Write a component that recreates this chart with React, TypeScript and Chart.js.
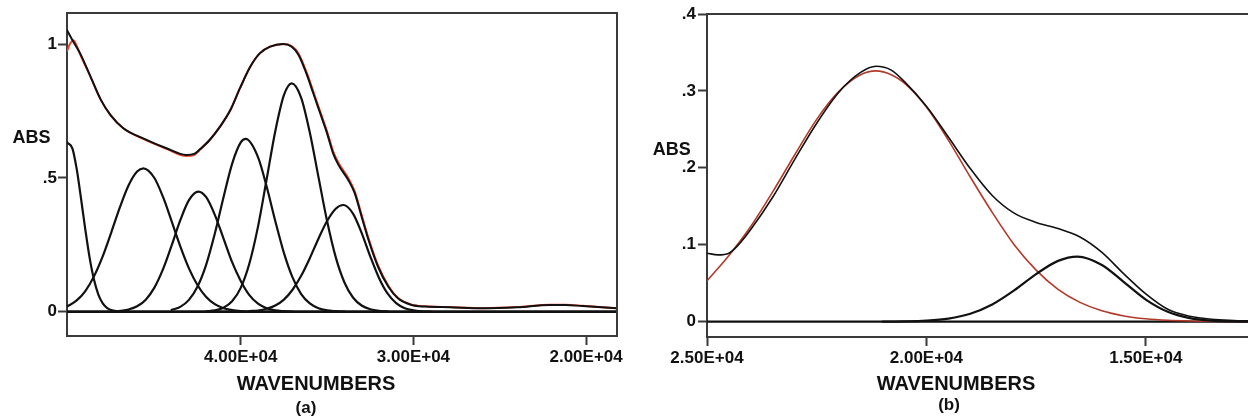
import React, { useEffect, useRef } from 'react';
import { Chart, registerables } from 'chart.js';

Chart.register(...registerables);

const FONT = "'Liberation Sans', Arial, Helvetica, sans-serif";
const AXIS_COLOR = '#3a3a3a';
const TEXT_COLOR = '#111111';
const BLACK = '#111111';
const RED_A = '#e8452c';
const RED_B = '#b23a2a';

// ---------- Chart (a) ----------
const X_RANGE_A = [18211, 50061];
const Y_RANGE_A = [-0.091, 1.117];
const X_TICKS_A = [40000, 30000, 20000];
const X_TICK_LABELS_A = ['4.00E+04', '3.00E+04', '2.00E+04'];
const Y_TICKS_A = [0, 0.5, 1];
const Y_TICK_LABELS_A = ['0', '.5', '1'];

const BASE_A_WN = [50061, 18211];
const BASE_A = [0, 0];

const COMP1_WN = [50061, 49750, 49500, 49250, 49000, 48750, 48500, 48250, 48000, 47750, 47500, 47000, 46500];
const COMP1 = [0.633, 0.611, 0.534, 0.424, 0.307, 0.201, 0.12, 0.065, 0.032, 0.0145, 0.006, 0.001, 0];

const COMP2_WN = [50061, 49500, 49000, 48500, 48000, 47500, 47000, 46500, 46000, 45640, 45000, 44500, 44000, 43500, 43000, 42500, 42000, 41500, 41000, 40500, 40000, 39500];
const COMP2 = [0.019, 0.042, 0.077, 0.132, 0.206, 0.296, 0.39, 0.472, 0.524, 0.536, 0.5, 0.429, 0.338, 0.244, 0.162, 0.099, 0.055, 0.028, 0.013, 0.006, 0.002, 0];

const COMP3_WN = [47000, 46500, 46000, 45500, 45000, 44500, 44000, 43500, 43000, 42455, 42000, 41500, 41000, 40500, 40000, 39500, 39000, 38500, 38000, 37500, 37000];
const COMP3 = [0.003, 0.008, 0.02, 0.045, 0.09, 0.159, 0.248, 0.342, 0.417, 0.449, 0.428, 0.362, 0.274, 0.185, 0.115, 0.062, 0.03, 0.013, 0.005, 0.002, 0];

const COMP4_WN = [44000, 43500, 43000, 42500, 42000, 41500, 41000, 40500, 40000, 39710, 39000, 38500, 38000, 37500, 37000, 36500, 36000, 35500, 35000, 34500, 34000];
const COMP4 = [0.007, 0.018, 0.044, 0.094, 0.176, 0.292, 0.427, 0.553, 0.633, 0.646, 0.578, 0.468, 0.339, 0.22, 0.128, 0.066, 0.031, 0.013, 0.005, 0.002, 0];

const COMP5_WN = [42000, 41500, 41000, 40500, 40000, 39500, 39000, 38500, 38000, 37500, 37047, 36500, 36000, 35500, 35000, 34500, 34000, 33500, 33000, 32500, 32000, 31500];
const COMP5 = [0.0015, 0.005, 0.015, 0.039, 0.089, 0.18, 0.318, 0.495, 0.675, 0.81, 0.854, 0.8, 0.67, 0.504, 0.339, 0.204, 0.11, 0.053, 0.023, 0.009, 0.003, 0.001];

const COMP6_WN = [39500, 39000, 38500, 38000, 37500, 37000, 36500, 36000, 35500, 35000, 34500, 34059, 33500, 33000, 32500, 32000, 31500, 31000, 30500, 30000, 29500, 29000];
const COMP6 = [0.002, 0.0045, 0.011, 0.023, 0.045, 0.082, 0.134, 0.2, 0.273, 0.339, 0.385, 0.399, 0.367, 0.295, 0.207, 0.127, 0.068, 0.032, 0.013, 0.005, 0.0015, 0];

const TOTAL_A_WN = [50061, 49700, 49300, 48700, 48100, 47550, 46800, 45650, 44300, 43150, 42700, 42350, 41800, 41200, 40600, 40050, 39450, 38900, 38300, 37550, 37050, 36650, 36200, 35800, 35400, 35000, 34650, 34350, 33750, 33400, 33000, 32600, 32050, 31450, 30900, 30100, 29300, 27900, 26000, 24000, 22100, 21200, 20200, 18211];
const TOTAL_A = [1.053, 1.01, 0.966, 0.879, 0.792, 0.736, 0.686, 0.648, 0.611, 0.586, 0.59, 0.608, 0.642, 0.692, 0.754, 0.835, 0.916, 0.966, 0.991, 1.001, 0.991, 0.96, 0.891, 0.817, 0.742, 0.667, 0.592, 0.55, 0.49, 0.443, 0.355, 0.268, 0.168, 0.093, 0.05, 0.025, 0.019, 0.0165, 0.0127, 0.0165, 0.025, 0.025, 0.021, 0.0127];

const FIT_A_WN = [50061, 49900, 49700, 49500, 49300, 48700, 48100, 47550, 46800, 45650, 44300, 43150, 42700, 42350, 41800, 41200, 40600, 40050, 39450, 38900, 38300, 37550, 37050, 36650, 36200, 35800, 35400, 35000, 34650, 34350, 33750, 33400, 33000, 32600, 32050, 31450, 30900, 30100, 29300, 27900, 26000, 24000, 22100, 21200, 20200, 18211];
const FIT_A = [0.975, 1.0, 1.015, 0.995, 0.962, 0.879, 0.792, 0.736, 0.686, 0.646, 0.609, 0.582, 0.586, 0.606, 0.642, 0.692, 0.754, 0.835, 0.916, 0.966, 0.991, 1.001, 0.993, 0.965, 0.898, 0.824, 0.749, 0.674, 0.6, 0.558, 0.497, 0.45, 0.362, 0.274, 0.173, 0.097, 0.052, 0.026, 0.02, 0.017, 0.013, 0.017, 0.026, 0.026, 0.022, 0.013];

// ---------- Chart (b) ----------
const X_RANGE_B = [12671, 25000];
const Y_RANGE_B = [-0.02, 0.4];
const X_TICKS_B = [25000, 20000, 15000];
const X_TICK_LABELS_B = ['2.50E+04', '2.00E+04', '1.50E+04'];
const Y_TICKS_B = [0, 0.1, 0.2, 0.3, 0.4];
const Y_TICK_LABELS_B = ['0', '.1', '.2', '.3', '.4'];

const BASE_B_WN = [25000, 12671];
const BASE_B = [0, 0];

const FIT_B_WN = [25000, 24500, 24000, 23500, 23000, 22500, 22000, 21500, 21150, 20800, 20500, 20000, 19500, 19000, 18500, 18000, 17500, 17000, 16500, 16000, 15500, 15000, 14500, 14000, 13000, 12671];
const FIT_B = [0.053, 0.086, 0.124, 0.169, 0.217, 0.263, 0.299, 0.321, 0.326, 0.321, 0.31, 0.279, 0.236, 0.188, 0.142, 0.1, 0.067, 0.042, 0.025, 0.014, 0.0074, 0.0037, 0.0017, 0.0008, 0.0002, 0];

const BAND_B_WN = [21000, 20500, 20000, 19500, 19000, 18500, 18000, 17500, 17000, 16558, 16000, 15500, 15000, 14500, 14000, 13500, 13000, 12671];
const BAND_B = [0, 0.0003, 0.0013, 0.004, 0.0103, 0.0223, 0.0406, 0.0618, 0.079, 0.0846, 0.0737, 0.0514, 0.0287, 0.0128, 0.0046, 0.0013, 0.0003, 0];

const TOTAL_B_WN = [25000, 24750, 24500, 24250, 24000, 23500, 23000, 22500, 22000, 21500, 21150, 20800, 20500, 20000, 19500, 19000, 18500, 18000, 17500, 17000, 16500, 16000, 15500, 15000, 14500, 14000, 13500, 13000, 12671];
const TOTAL_B = [0.089, 0.0868, 0.089, 0.102, 0.12, 0.162, 0.211, 0.258, 0.298, 0.324, 0.332, 0.327, 0.312, 0.28, 0.24, 0.199, 0.164, 0.141, 0.129, 0.121, 0.11, 0.09, 0.062, 0.036, 0.016, 0.007, 0.003, 0.0015, 0.001];

// ---------- helpers ----------
const pts = (wn: number[], v: number[]) => wn.map((x, i) => ({ x, y: v[i] }));

const line = (wn: number[], v: number[], color: string, width: number) => ({
  data: pts(wn, v),
  borderColor: color,
  borderWidth: width,
  pointRadius: 0,
  fill: false,
  cubicInterpolationMode: 'monotone' as const,
});

const tickFont = { family: FONT, size: 17, weight: 'bold' as const };

function xScale(range: number[], ticks: number[], labels: string[], height: number) {
  return {
    type: 'linear' as const,
    reverse: true,
    min: range[0],
    max: range[1],
    afterBuildTicks: (s: any) => {
      s.ticks = ticks.map((v) => ({ value: v }));
    },
    afterFit: (s: any) => {
      s.height = height;
    },
    ticks: {
      callback: (v: any) => {
        const i = ticks.indexOf(Number(v));
        return i >= 0 ? labels[i] : '';
      },
      font: tickFont,
      color: TEXT_COLOR,
      padding: 2,
      maxRotation: 0,
      autoSkip: false,
    },
    grid: { drawOnChartArea: false, drawTicks: true, tickLength: 9, tickWidth: 2, tickColor: AXIS_COLOR },
    border: { display: true, color: AXIS_COLOR, width: 2 },
  };
}

function yScale(range: number[], ticks: number[], labels: string[], width: number, pad: number) {
  return {
    type: 'linear' as const,
    min: range[0],
    max: range[1],
    afterBuildTicks: (s: any) => {
      s.ticks = ticks.map((v) => ({ value: v }));
    },
    afterFit: (s: any) => {
      s.width = width;
    },
    ticks: {
      callback: (v: any) => {
        const i = ticks.findIndex((t) => Math.abs(t - Number(v)) < 1e-9);
        return i >= 0 ? labels[i] : '';
      },
      font: tickFont,
      color: TEXT_COLOR,
      padding: pad,
      autoSkip: false,
    },
    grid: { drawOnChartArea: false, drawTicks: true, tickLength: 9, tickWidth: 2, tickColor: AXIS_COLOR },
    border: { display: true, color: AXIS_COLOR, width: 2 },
  };
}

type TextItem = { text: string; x: number; y: number; size: number; align: CanvasTextAlign };

function textPlugin(items: TextItem[]) {
  return {
    id: 'texts',
    afterDraw(chart: any) {
      const ctx = chart.ctx as CanvasRenderingContext2D;
      ctx.save();
      ctx.fillStyle = TEXT_COLOR;
      ctx.textBaseline = 'alphabetic';
      for (const t of items) {
        ctx.font = `bold ${t.size}px ${FONT}`;
        ctx.textAlign = t.align;
        ctx.fillText(t.text, t.x, t.y);
      }
      ctx.restore();
    },
  };
}

function framePlugin(drawRight: boolean) {
  return {
    id: 'frame',
    afterDraw(chart: any) {
      const { left, right, top, bottom } = chart.chartArea;
      const ctx = chart.ctx as CanvasRenderingContext2D;
      ctx.save();
      ctx.strokeStyle = AXIS_COLOR;
      ctx.lineWidth = 2;
      ctx.beginPath();
      ctx.moveTo(left - 1, top);
      ctx.lineTo(drawRight ? right + 1 : right + 2, top);
      if (drawRight) {
        ctx.moveTo(right, top);
        ctx.lineTo(right, bottom + 1);
      }
      ctx.stroke();
      ctx.restore();
    },
  };
}

const baseOptions = {
  responsive: false,
  animation: false as const,
  devicePixelRatio: 1,
  events: [] as any[],
  plugins: { legend: { display: false }, tooltip: { enabled: false }, title: { display: false } },
  elements: { point: { radius: 0 }, line: { borderCapStyle: 'round' as const, borderJoinStyle: 'round' as const } },
};

function configA(): any {
  return {
    type: 'line',
    data: {
      datasets: [
        line(TOTAL_A_WN, TOTAL_A, BLACK, 2),
        line(FIT_A_WN, FIT_A, RED_A, 2),
        line(COMP1_WN, COMP1, BLACK, 2.2),
        line(COMP2_WN, COMP2, BLACK, 2.2),
        line(COMP3_WN, COMP3, BLACK, 2.2),
        line(COMP4_WN, COMP4, BLACK, 2.2),
        line(COMP5_WN, COMP5, BLACK, 2.2),
        line(COMP6_WN, COMP6, BLACK, 2.2),
        line(BASE_A_WN, BASE_A, BLACK, 2.6),
      ],
    },
    options: {
      ...baseOptions,
      layout: { padding: { top: 13, right: 23, left: 0, bottom: 0 } },
      scales: {
        x: xScale(X_RANGE_A, X_TICKS_A, X_TICK_LABELS_A, 84),
        y: yScale(Y_RANGE_A, Y_TICKS_A, Y_TICK_LABELS_A, 67, 1),
      },
    },
    plugins: [
      framePlugin(true),
      textPlugin([
        { text: 'ABS', x: 12.5, y: 143, size: 18, align: 'left' },
        { text: 'WAVENUMBERS', x: 316, y: 390, size: 20, align: 'center' },
        { text: '(a)', x: 306, y: 413, size: 17, align: 'center' },
      ]),
    ],
  };
}

function configB(): any {
  return {
    type: 'line',
    data: {
      datasets: [
        line(TOTAL_B_WN, TOTAL_B, BLACK, 1.6),
        line(BAND_B_WN, BAND_B, BLACK, 2.2),
        line(FIT_B_WN, FIT_B, RED_B, 1.6),
        line(BASE_B_WN, BASE_B, BLACK, 2.4),
      ],
    },
    options: {
      ...baseOptions,
      layout: { padding: { top: 14, right: 0, left: 0, bottom: 0 } },
      scales: {
        x: xScale(X_RANGE_B, X_TICKS_B, X_TICK_LABELS_B, 83),
        y: yScale(Y_RANGE_B, Y_TICKS_B, Y_TICK_LABELS_B, 67, 2),
      },
    },
    plugins: [
      framePlugin(false),
      textPlugin([
        { text: 'ABS', x: 12.7, y: 155, size: 18, align: 'left' },
        { text: 'WAVENUMBERS', x: 316, y: 390, size: 20, align: 'center' },
        { text: '(b)', x: 309, y: 410, size: 17, align: 'center' },
      ]),
    ],
  };
}

export default function App() {
  const refA = useRef<HTMLCanvasElement>(null);
  const refB = useRef<HTMLCanvasElement>(null);

  useEffect(() => {
    const a = new Chart(refA.current as HTMLCanvasElement, configA());
    const b = new Chart(refB.current as HTMLCanvasElement, configB());
    return () => {
      a.destroy();
      b.destroy();
    };
  }, []);

  return (
    <div style={{ position: 'absolute', left: 0, top: 0, width: 1248, height: 420, background: '#fff', overflow: 'hidden' }}>
      <canvas ref={refA} width={640} height={420} style={{ position: 'absolute', left: 0, top: 0, width: 640, height: 420 }} />
      <canvas ref={refB} width={608} height={420} style={{ position: 'absolute', left: 640, top: 0, width: 608, height: 420 }} />
    </div>
  );
}
